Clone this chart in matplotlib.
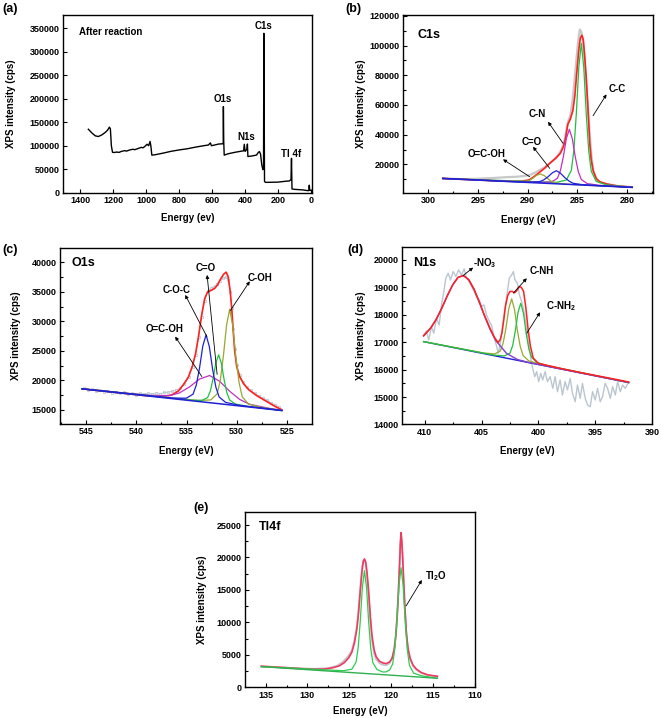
import matplotlib
matplotlib.use('Agg')
import matplotlib.pyplot as plt
from matplotlib.ticker import MultipleLocator, FormatStrFormatter

plt.rcParams['font.family'] = ['Liberation Sans', 'DejaVu Sans']
plt.rcParams['font.weight'] = 'bold'
plt.rcParams['mathtext.fontset'] = 'custom'
plt.rcParams['mathtext.rm'] = 'Liberation Sans:bold'
plt.rcParams['mathtext.it'] = 'Liberation Sans:bold'
plt.rcParams['mathtext.bf'] = 'Liberation Sans:bold'

# ---------------- (a) survey ----------------
survey_energy = [1352, 1330, 1310, 1291, 1270, 1250, 1235, 1224, 1218, 1212,
                 1205, 1195, 1180, 1165, 1150, 1130, 1120, 1100, 1080, 1070,
                 1050, 1030, 1020, 1010, 995, 985, 977, 972, 966, 950,
                 900, 850, 800, 750, 700, 650, 622, 610, 604, 590,
                 560, 540, 535, 532, 531, 529, 526, 500, 460, 420,
                 408, 404, 399, 388, 385, 382, 360, 330, 318, 312,
                 305, 298, 291, 287, 285, 281, 275, 200, 150, 130,
                 120, 117, 114, 100, 50, 20, 12, 9, 6, 2]
survey_counts = [135000, 127000, 121000, 119500, 123000, 128000, 133000, 139500, 136000, 100000,
                 86000, 85500, 86500, 85800, 88000, 89500, 88500, 91000, 92500, 91500,
                 94000, 96500, 95500, 98000, 103000, 100000, 109000, 100000, 80000, 80500,
                 84000, 88000, 91000, 93500, 97000, 100000, 101500, 106000, 100000, 101000,
                 103500, 104000, 104000, 106000, 183000, 110000, 80000, 83000, 86000, 88500,
                 89000, 103000, 88000, 92000, 103500, 77000, 78000, 80000, 86000, 87500,
                 82000, 60000, 49000, 52000, 339000, 24000, 22000, 22500, 24500, 25000,
                 28000, 73000, 8000, 7200, 6000, 4500, 4500, 16000, 5500, 5000]
survey_peak_labels = ['C1s', 'O1s', 'N1s', 'Tl 4f']
survey_peak_pos = [(285, 354900), (536, 198800), (395, 119200), (121, 82400)]

# ---------------- (b) C1s ----------------
b_raw_E = [298.5, 296.5, 295, 294, 293, 292, 291, 290.3, 289.8, 289.3,
           288.8, 288.3, 287.8, 287.4, 287.1, 286.7, 286.4, 286.2, 285.95, 285.7,
           285.5, 285.3, 285.1, 284.9, 284.75, 284.6, 284.45, 284.3, 284.15, 284.0,
           283.8, 283.6, 283.4, 283.1, 282.75, 282, 281, 279.5]
b_raw_I = [10600, 10000, 10300, 10600, 11000, 11400, 11700, 12200, 12800, 14200,
           16000, 18000, 20500, 22800, 25000, 28500, 33000, 39000, 48500, 53000,
           62000, 75000, 90000, 104000, 110800, 109500, 104000, 94000, 80000, 65000,
           45000, 27000, 16000, 10000, 8000, 6600, 5400, 4600]
b_fit_E = [298.5, 295, 292, 290.5, 289.8, 289.3, 288.8, 288.3, 287.8, 287.4,
           287.1, 286.7, 286.4, 286.2, 285.95, 285.7, 285.45, 285.25, 285.05, 284.85,
           284.7, 284.55, 284.4, 284.25, 284.1, 283.9, 283.75, 283.6, 283.4, 283.1,
           282.75, 282, 281, 279.5]
b_fit_I = [10500, 9450, 8600, 8700, 9600, 12000, 14600, 17300, 20500, 22800,
           24500, 27500, 31800, 37000, 47000, 50500, 56000, 66000, 82000, 97000,
           105000, 107000, 104000, 92000, 78000, 54000, 34000, 23000, 15500, 10500,
           8300, 6700, 5500, 4600]
b_cc_E = [298.5, 287.1, 286.1, 285.6, 285.35, 285.1, 284.85, 284.6, 284.35, 284.1, 283.85, 283.6, 283.1, 282.1, 279.5]
b_cc_I = [10500, 7850, 9450, 15970, 29240, 53970, 85370, 101510, 85210, 53650, 28770, 15340, 8500, 6280, 4500]
b_cn_E = [298.5, 288.8, 287.6, 287.0, 286.7, 286.4, 286.1, 285.8, 285.5, 285.2, 284.9, 284.6, 284.0, 282.8, 279.5]
b_cn_I = [10500, 7810, 8170, 10580, 15680, 25230, 37380, 43590, 37190, 24850, 15110, 9820, 7030, 5910, 4500]
b_co_E = [298.5, 291.4, 289.65, 288.8, 288.4, 287.95, 287.5, 287.1, 286.7, 286.25, 285.8, 285.4, 284.55, 282.85, 279.5]
b_co_I = [10500, 8350, 7970, 8320, 9420, 11570, 14330, 15700, 14080, 11030, 8600, 7240, 6360, 5650, 4500]
b_cooh_E = [298.5, 292.45, 290.95, 290.2, 289.8, 289.45, 289.1, 288.7, 288.3, 287.95, 287.6, 287.2, 286.45, 284.95, 279.5]
b_cooh_I = [10500, 8650, 8300, 8490, 9220, 10690, 12600, 13500, 12340, 10220, 8520, 7540, 6880, 6280, 4500]
b_base_E = [298.5, 279.5]
b_base_I = [10500, 4500]
b_labels = ['C-C', 'C-N', 'C=O', 'O=C-OH']
b_label_pos = [(281.0, 70700), (289.0, 53900), (289.6, 35200), (294.15, 26900)]
b_arrow_tail = [(283.42, 52730), (286.43, 34140), (287.77, 17300), (289.78, 11650)]
b_arrow_head = [(282.07, 67140), (287.94, 48690), (289.45, 31850), (292.46, 23370)]

# ---------------- (c) O1s ----------------
c_raw_E = [545.2, 544.8, 544.4, 544.0, 543.6, 543.2, 542.8, 542.4, 542.0, 541.6,
           541.2, 540.8, 540.4, 540.0, 539.6, 539.2, 538.8, 538.4, 538.0, 537.6,
           537.2, 536.8, 536.4, 536.0, 535.6, 535.2, 534.8, 534.4, 534.1, 533.8,
           533.5, 533.2, 532.9, 532.6, 532.3, 532.0, 531.7, 531.4, 531.1, 530.85,
           530.65, 530.5, 530.35, 530.2, 530.0, 529.7, 529.4, 529.0, 528.6, 528.2,
           527.8, 527.4, 527.0, 526.6, 526.2, 525.8]
c_raw_I = [18650, 18300, 18450, 18150, 18300, 18050, 18200, 17900, 18050, 17800,
           17950, 17700, 17850, 17600, 17800, 17650, 17850, 17700, 17900, 17750,
           17950, 18000, 18150, 18400, 18700, 19300, 20500, 22300, 24300, 27300,
           30800, 33500, 35200, 35600, 35900, 36300, 36900, 37300, 37500, 37100,
           35000, 32200, 28700, 25300, 22600, 20900, 19800, 18900, 18300, 17800,
           17400, 17000, 16700, 16200, 15900, 15500]
c_fit_E = [545.4, 543, 541, 539, 537.5, 536.5, 535.8, 535.3, 534.8, 534.4,
           534.1, 533.8, 533.5, 533.2, 532.9, 532.5, 532.2, 531.9, 531.6, 531.3,
           531.05, 530.85, 530.65, 530.5, 530.35, 530.2, 530.0, 529.7, 529.3, 528.8,
           528.0, 527, 526.2, 525.5]
c_fit_I = [18560, 18120, 17750, 17400, 17250, 17500, 18200, 19300, 20600, 22500,
           24500, 27500, 31000, 33800, 35000, 35300, 35600, 36200, 37200, 38000,
           38350, 37600, 35200, 32300, 28500, 25000, 22300, 20600, 19400, 18400,
           17400, 16400, 15600, 15000]
c_coc_E = [545.4, 536.3, 535.0, 534.35, 534.025, 533.7, 533.375, 533.05, 532.725, 532.4, 532.075, 531.75, 531.1, 529.8, 525.5]
c_coc_I = [18560, 16990, 16980, 17660, 19200, 22120, 25830, 27720, 25710, 21880, 18840, 17180, 16260, 15790, 14880]
c_co_E = [545.4, 534.55, 533.45, 532.9, 532.625, 532.35, 532.075, 531.8, 531.525, 531.25, 530.975, 530.7, 530.15, 529.05, 525.5]
c_co_I = [18560, 16640, 16600, 17080, 18190, 20290, 22970, 24330, 22870, 20080, 17880, 16670, 15990, 15620, 14880]
c_coh_E = [545.4, 533.83, 532.58, 531.95, 531.64, 531.33, 531.01, 530.7, 530.39, 530.08, 529.76, 529.45, 528.83, 527.58, 525.5]
c_coh_I = [18560, 16580, 16680, 17700, 19910, 24070, 29370, 32070, 29260, 23840, 19560, 17230, 15980, 15430, 14880]
c_ocoh_E = [545.4, 542.7, 538.7, 536.7, 535.7, 534.7, 533.7, 532.7, 531.7, 530.7, 529.7, 528.7, 526.7, 525.5]
c_ocoh_I = [18560, 18110, 17460, 17410, 17870, 18890, 20220, 20820, 19850, 18150, 16760, 15930, 15240, 14950]
c_base_E = [545.4, 525.5]
c_base_I = [18560, 14880]
c_labels = ['C=O', 'C-OH', 'C-O-C', 'O=C-OH']
c_label_pos = [(533.06, 39020), (527.65, 37320), (536.03, 35340), (537.22, 28730)]
c_arrow_tail = [(531.95, 21000), (530.65, 31800), (532.97, 27420), (533.47, 20640)]
c_arrow_head = [(532.95, 37880), (528.7, 36800), (535.13, 34490), (536.13, 27420)]

# ---------------- (d) N1s ----------------
d_raw_E = [410.09, 409.85, 409.65, 409.41, 409.2, 408.97, 408.73, 408.53, 408.32, 408.15,
           407.94, 407.73, 407.5, 407.26, 407.03, 406.76, 406.53, 406.32, 406.09, 405.88,
           405.65, 405.44, 405.2, 405.0, 404.79, 404.56, 404.32, 404.12, 403.91, 403.67,
           403.53, 403.32, 403.15, 402.94, 402.73, 402.56, 402.35, 402.2, 402.06, 401.85,
           401.67, 401.47, 401.26, 401.03, 400.85, 400.67, 400.5, 400.32, 400.15, 399.97,
           399.79, 399.62, 399.41, 399.2, 398.97, 398.73, 398.53, 398.32, 398.09, 397.88,
           397.65, 397.44, 397.2, 397.0, 396.76, 396.56, 396.32, 396.12, 395.88, 395.67,
           395.44, 395.23, 395.0, 394.79, 394.56, 394.35, 394.12, 393.91, 393.67, 393.47,
           393.23, 393.03, 392.79, 392.59, 392.35, 392.12]
d_raw_I = [17263, 17409, 17081, 17567, 17324, 17871, 17628, 18358, 18844, 19330,
           19513, 19270, 19574, 19391, 19634, 19452, 19671, 19330, 19209, 19026,
           18844, 18662, 18540, 18297, 18358, 17993, 17750, 17628, 17202, 16838,
           16594, 17020, 17628, 18236, 18844, 19330, 19452, 19574, 19270, 19148,
           18722, 18479, 18114, 17506, 16898, 16412, 16047, 15743, 15926, 15561,
           15865, 15622, 15926, 15561, 15743, 15318, 15743, 15196, 15622, 15074,
           15561, 15257, 15682, 15135, 14831, 15439, 14953, 15500, 14953, 14710,
           14649, 15196, 14892, 15318, 14831, 15014, 15500, 15318, 14953, 15379,
           15074, 15561, 15196, 15439, 15318, 15500]
d_fit_E = [410.1, 409.45, 408.98, 408.5, 408.03, 407.55, 407.08, 406.6, 406.13, 405.65,
           405.18, 404.7, 404.23, 403.9, 403.55, 403.35, 403.2, 403.05, 402.9, 402.7,
           402.5, 402.3, 402.1, 401.9, 401.7, 401.5, 401.3, 401.1, 400.9, 400.7,
           400.45, 400.0, 398.0, 396.0, 394.0, 392.06]
d_fit_I = [17230, 17530, 17840, 18240, 18680, 19080, 19360, 19430, 19280, 18920,
           18440, 17930, 17480, 17200, 16980, 17100, 17350, 17800, 18300, 18700,
           18850, 18850, 18800, 18880, 19020, 19000, 18850, 18250, 17450, 16850,
           16420, 16230, 16040, 15870, 15710, 15550]
d_no3_E = [410.1, 409.45, 408.98, 408.5, 408.03, 407.55, 407.08, 406.6, 406.13, 405.65,
           405.18, 404.7, 404.23, 403.75, 402.8, 401.85, 400.9, 392.06]
d_no3_I = [17230, 17530, 17840, 18240, 18680, 19080, 19360, 19430, 19280, 18920,
           18440, 17920, 17450, 17060, 16590, 16370, 16265, 15530]
d_cnh_E = [410.1, 404.85, 403.85, 403.35, 403.1, 402.85, 402.6, 402.35, 402.1, 401.85, 401.6, 401.35, 400.85, 399.85, 392.06]
d_cnh_I = [17020, 16610, 16570, 16680, 16970, 17520, 18230, 18580, 18190, 17440, 16850, 16520, 16320, 16200, 15530]
d_cnh2_E = [410.1, 403.93, 402.98, 402.5, 402.26, 402.03, 401.79, 401.55, 401.31, 401.08, 400.84, 400.6, 400.13, 399.18, 392.06]
d_cnh2_I = [17020, 16530, 16500, 16600, 16880, 17410, 18090, 18420, 18050, 17330, 16760, 16450, 16260, 16140, 15530]
d_base_E = [410.1, 392.06]
d_base_I = [17020, 15530]
d_labels = [r'-NO$_\mathregular{3}$', 'C-NH', r'C-NH$_\mathregular{2}$']
d_label_pos = [(404.7, 19880), (399.73, 19580), (398.0, 18330)]
d_arrow_tail = [(406.62, 19430), (402.2, 18790), (401.02, 17330)]
d_arrow_head = [(405.74, 19720), (401.02, 19330), (399.85, 18090)]

# ---------------- (e) Tl4f ----------------
e_raw_E = [135.5, 133, 131, 129, 127.5, 126.5, 125.8, 125.2, 124.7, 124.4,
           124.1, 123.9, 123.7, 123.5, 123.35, 123.2, 123.05, 122.9, 122.7, 122.5,
           122.3, 122.05, 121.8, 121.4, 121.0, 120.6, 120.2, 119.9, 119.65, 119.45,
           119.3, 119.15, 119.02, 118.92, 118.83, 118.74, 118.63, 118.5, 118.35, 118.2,
           118.0, 117.75, 117.4, 117.0, 116.4, 115.6, 114.5]
e_raw_I = [3200, 3050, 2900, 2850, 2950, 3300, 3900, 4700, 5700, 7200,
           9500, 12200, 15400, 18200, 19500, 19700, 19000, 17200, 14000, 10200,
           7200, 5200, 4300, 3700, 3450, 3400, 3700, 4400, 5900, 8200,
           11000, 14800, 18700, 22100, 23700, 22300, 19500, 15400, 11300, 8100,
           5700, 4300, 3300, 2700, 2200, 1850, 1650]
e_fit_E = [135.5, 132, 129.5, 128, 127, 126.2, 125.6, 125.1, 124.7, 124.4,
           124.1, 123.9, 123.7, 123.5, 123.35, 123.2, 123.05, 122.9, 122.7, 122.5,
           122.3, 122.05, 121.8, 121.4, 121.0, 120.6, 120.2, 119.9, 119.65, 119.45,
           119.3, 119.15, 119.02, 118.92, 118.83, 118.74, 118.63, 118.5, 118.35, 118.2,
           118.0, 117.75, 117.4, 117.0, 116.4, 115.6, 114.5]
e_fit_I = [3250, 2980, 2780, 2800, 3000, 3300, 3800, 4500, 5400, 6800,
           9000, 11500, 14800, 17800, 19300, 19770, 19300, 17800, 14800, 11000,
           8000, 5800, 4700, 4000, 3750, 3650, 3900, 4500, 5800, 8000,
           10800, 14500, 18500, 22000, 23830, 22500, 19800, 15800, 11800, 8500,
           6000, 4500, 3400, 2800, 2250, 1900, 1700]
e_tl2o_E = [135.5, 125.7, 124.7, 124.2, 123.95, 123.7, 123.45, 123.2, 122.95, 122.7,
            122.45, 122.2, 121.7, 121.0, 120.6, 120.2, 119.83, 119.58, 119.33, 119.08,
            118.83, 118.58, 118.33, 118.08, 117.83, 117.33, 116.33, 114.5]
e_tl2o_I = [3180, 2550, 2790, 3870, 6070, 10170, 15390, 17970, 15370, 10140,
            6020, 3800, 2730, 2350, 2380, 2650, 3600, 5900, 10210, 15680,
            18430, 15620, 10090, 5740, 3380, 2170, 1750, 1390]
e_base_E = [135.5, 114.5]
e_base_I = [3180, 1390]
e_labels = [r'Tl$_\mathregular{2}$O']
e_label_pos = [(114.65, 17200)]
e_arrow_tail = [(118.23, 12530)]
e_arrow_head = [(116.35, 16530)]

# ---------------- styling helpers ----------------
RED = '#ff2020'
GREEN = '#22c040'
MAGENTA = '#c030c0'
BLUE = '#2020d8'
OLIVE = '#98a830'
PURPLE = '#8040c8'
TICK_FS = 6.5
LAB_FS = 7.0
ANN_FS = 7.0
TITLE_FS = 9.0


def style(ax, xmaj, ymaj, xmin=None, ymin=None):
    for s in ax.spines.values():
        s.set_linewidth(1.0)
    ax.xaxis.set_major_locator(MultipleLocator(xmaj))
    ax.yaxis.set_major_locator(MultipleLocator(ymaj))
    if xmin:
        ax.xaxis.set_minor_locator(MultipleLocator(xmin))
    if ymin:
        ax.yaxis.set_minor_locator(MultipleLocator(ymin))
    ax.xaxis.set_major_formatter(FormatStrFormatter('%d'))
    ax.yaxis.set_major_formatter(FormatStrFormatter('%d'))
    ax.tick_params(which='both', direction='in', top=False, right=False,
                   labelsize=TICK_FS, width=0.8, pad=2.5)
    ax.tick_params(which='major', length=3)
    ax.tick_params(which='minor', length=1.8)


def arrows(ax, labels, pos, tails, heads):
    for lab, p, t, h in zip(labels, pos, tails, heads):
        ax.text(p[0], p[1], lab, fontsize=ANN_FS, fontweight='bold', ha='center', va='center')
        ax.annotate('', xy=h, xytext=t,
                    arrowprops=dict(arrowstyle='-|>', color='k', lw=0.6,
                                    mutation_scale=5, shrinkA=0, shrinkB=0))


def labels(ax, xl, xlab_y, ylab_x):
    ax.set_xlabel(xl, fontsize=LAB_FS, fontweight='bold')
    ax.set_ylabel('XPS intensity (cps)', fontsize=LAB_FS, fontweight='bold')
    ax.xaxis.set_label_coords(0.5, xlab_y)
    ax.yaxis.set_label_coords(ylab_x, 0.5)


fig = plt.figure(figsize=(6.61, 7.18), dpi=100)

# (a)
axa = fig.add_axes([0.0958, 0.7316, 0.3758, 0.2475])
axa.plot(survey_energy, survey_counts, color='k', lw=1.0)
axa.set_xlim(1504, -6)
axa.set_ylim(0, 378000)
style(axa, 200, 50000)
labels(axa, 'Energy (ev)', -0.112, -0.192)
axa.text(0.063, 0.906, 'After reaction', transform=axa.transAxes, fontsize=ANN_FS,
         fontweight='bold', ha='left', va='center')
for lab, p in zip(survey_peak_labels, survey_peak_pos):
    axa.text(p[0], p[1], lab, fontsize=ANN_FS, fontweight='bold', ha='center', va='center')

# (b)
axb = fig.add_axes([0.6097, 0.7312, 0.3782, 0.2479])
axb.plot(b_raw_E, b_raw_I, color='#c8c8c8', lw=1.6)
axb.plot(b_fit_E, b_fit_I, color=RED, lw=1.2)
axb.plot(b_cc_E, b_cc_I, color=GREEN, lw=0.9)
axb.plot(b_cn_E, b_cn_I, color=MAGENTA, lw=0.9)
axb.plot(b_cooh_E, b_cooh_I, color=OLIVE, lw=0.9)
axb.plot(b_co_E, b_co_I, color=BLUE, lw=0.9)
axb.plot(b_base_E, b_base_I, color=BLUE, lw=1.1)
axb.set_xlim(302.5, 277.4)
axb.set_ylim(700, 120600)
style(axb, 5, 20000, 2.5, 10000)
labels(axb, 'Energy (eV)', -0.124, -0.148)
axb.text(0.056, 0.888, 'C1s', transform=axb.transAxes, fontsize=TITLE_FS,
         fontweight='bold', ha='left', va='center')
arrows(axb, b_labels, b_label_pos, b_arrow_tail, b_arrow_head)

# (c)
axc = fig.add_axes([0.0908, 0.4095, 0.3812, 0.2451])
axc.plot(c_raw_E, c_raw_I, color='#b4bec8', lw=0.5, marker='o', ms=1.8,
         mfc='none', mew=0.5)
axc.plot(c_fit_E, c_fit_I, color=RED, lw=1.2)
axc.plot(c_ocoh_E, c_ocoh_I, color=MAGENTA, lw=0.9)
axc.plot(c_coh_E, c_coh_I, color=OLIVE, lw=0.9)
axc.plot(c_co_E, c_co_I, color=GREEN, lw=0.9)
axc.plot(c_coc_E, c_coc_I, color=BLUE, lw=0.9)
axc.plot(c_base_E, c_base_I, color=BLUE, lw=1.1)
axc.set_xlim(547.6, 522.5)
axc.set_ylim(12600, 42450)
style(axc, 5, 5000, 2.5, 2500)
labels(axc, 'Energy (eV)', -0.125, -0.156)
axc.text(0.046, 0.913, 'O1s', transform=axc.transAxes, fontsize=TITLE_FS,
         fontweight='bold', ha='left', va='center')
arrows(axc, c_labels, c_label_pos, c_arrow_tail, c_arrow_head)

# (d)
axd = fig.add_axes([0.6082, 0.4088, 0.3782, 0.2472])
axd.plot(d_raw_E, d_raw_I, color='#bcc6d0', lw=1.0)
axd.plot(d_base_E, d_base_I, color=BLUE, lw=1.0)
axd.plot(d_cnh_E, d_cnh_I, color=OLIVE, lw=0.9)
axd.plot(d_cnh2_E, d_cnh2_I, color=GREEN, lw=0.9)
axd.plot(d_no3_E, d_no3_I, color=PURPLE, lw=1.0)
axd.plot(d_fit_E, d_fit_I, color=RED, lw=1.1)
axd.set_xlim(412.0, 390.0)
axd.set_ylim(14000, 20470)
style(axd, 5, 1000, 2.5, 500)
labels(axd, 'Energy (eV)', -0.121, -0.144)
axd.text(0.043, 0.908, 'N1s', transform=axd.transAxes, fontsize=TITLE_FS,
         fontweight='bold', ha='left', va='center')
arrows(axd, d_labels, d_label_pos, d_arrow_tail, d_arrow_head)

# (e)
axe = fig.add_axes([0.3707, 0.0428, 0.3480, 0.2446])
axe.plot(e_raw_E, e_raw_I, color='#c4c4cc', lw=1.3)
axe.plot(e_fit_E, e_fit_I, color='#f03a60', lw=1.2)
axe.plot(e_tl2o_E, e_tl2o_I, color='#30cc50', lw=0.9)
axe.plot(e_base_E, e_base_I, color='#30b050', lw=1.0)
axe.set_xlim(137.45, 110.0)
axe.set_ylim(0, 27060)
style(axe, 5, 5000, 2.5, 2500)
labels(axe, 'Energy (eV)', -0.106, -0.165)
axe.text(0.062, 0.915, 'Tl4f', transform=axe.transAxes, fontsize=TITLE_FS,
         fontweight='bold', ha='left', va='center')
arrows(axe, e_labels, e_label_pos, e_arrow_tail, e_arrow_head)

# panel letters
for letter, (x, y) in zip(['(a)', '(b)', '(c)', '(d)', '(e)'],
                          [(0.003, 0.988), (0.522, 0.988), (0.003, 0.652),
                           (0.525, 0.652), (0.292, 0.292)]):
    fig.text(x, y, letter, fontsize=9, fontweight='bold', ha='left', va='center')

fig.savefig('out.png', dpi=100)
